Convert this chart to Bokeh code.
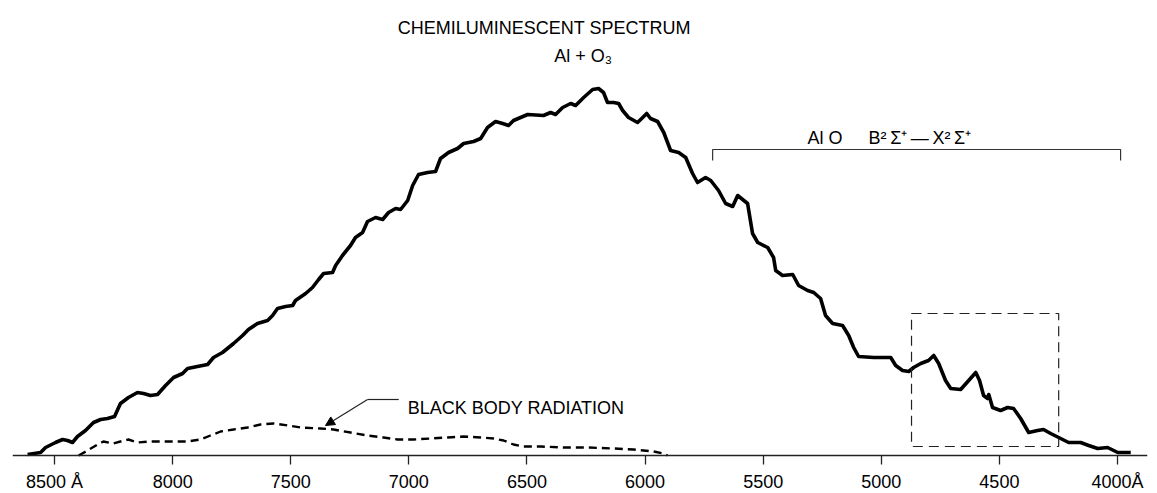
from bokeh.plotting import figure
from bokeh.models import Range1d, FixedTicker, Label, Arrow, NormalHead
from bokeh.embed import file_html
from bokeh.resources import INLINE

# ---- data (wavelength in Angstrom, relative intensity in arbitrary units) ----
wavelength = [8614, 8559, 8538, 8496, 8466, 8445, 8424, 8403, 8369, 8335, 8305, 8276,
              8246, 8221, 8187, 8149, 8123, 8094, 8064, 8030, 7996, 7958, 7937, 7895,
              7852, 7827, 7789, 7742, 7704, 7679, 7641, 7598, 7577, 7556, 7522, 7492,
              7480, 7437, 7408, 7382, 7361, 7323, 7310, 7281, 7247, 7226, 7196, 7175,
              7141, 7111, 7086, 7056, 7035, 7005, 6984, 6959, 6921, 6887, 6866, 6832,
              6794, 6768, 6726, 6696, 6667, 6633, 6603, 6578, 6557, 6497, 6430, 6400,
              6379, 6349, 6315, 6294, 6260, 6222, 6197, 6176, 6159, 6133, 6112, 6095,
              6070, 6032, 6010, 5993, 5977, 5947, 5921, 5892, 5858, 5828, 5799, 5778,
              5744, 5722, 5689, 5659, 5629, 5608, 5566, 5545, 5523, 5481, 5456, 5447,
              5418, 5375, 5350, 5312, 5286, 5257, 5236, 5206, 5164, 5138, 5117, 5096,
              5032, 4960, 4939, 4910, 4884, 4863, 4833, 4800, 4778, 4757, 4728, 4706,
              4664, 4630, 4600, 4584, 4567, 4550, 4545, 4529, 4495, 4465, 4440, 4410,
              4376, 4338, 4313, 4283, 4249, 4207, 4156, 4122, 4084, 4042, 3999, 3944]
intensity = [1, 3, 8, 13, 16, 15, 13, 19, 25, 33, 36, 37,
             39, 52, 58, 63, 62, 60, 61, 70, 78, 82, 87, 89,
             91, 98, 103, 112, 120, 126, 132, 135, 140, 147, 149, 150,
             155, 162, 168, 176, 182, 183, 190, 200, 210, 218, 223, 234,
             238, 236, 243, 247, 246, 255, 270, 281, 283, 284, 297, 303,
             307, 312, 314, 317, 328, 334, 332, 330, 335, 341, 340, 343,
             341, 348, 352, 350, 358, 366, 367, 363, 353, 353, 352, 345,
             338, 333, 338, 342, 337, 334, 323, 305, 303, 298, 282, 273,
             278, 275, 265, 252, 249, 260, 252, 222, 213, 208, 198, 185,
             180, 181, 170, 165, 163, 157, 140, 132, 130, 120, 108, 99,
             98, 98, 90, 85, 84, 88, 92, 95, 100, 92, 75, 67,
             66, 75, 83, 75, 60, 57, 61, 48, 45, 48, 47, 37,
             23, 25, 26, 22, 18, 13, 13, 10, 7, 8, 3, 3]

bb_wavelength = [8398, 8360, 8318, 8293, 8250, 8221, 8187, 8149, 8094, 8022, 7937, 7882,
                 7840, 7797, 7742, 7683, 7628, 7573, 7513, 7458, 7374, 7319, 7247, 7175,
                 7107, 7048, 6980, 6908, 6836, 6768, 6696, 6641, 6599, 6557, 6514, 6442,
                 6345, 6243, 6133, 6049, 5964, 5921, 5905]
bb_intensity = [0, 5, 11, 14, 12, 14, 16, 13, 14, 14, 14, 16,
                20, 24, 26, 28, 31, 32, 30, 28, 27, 26, 23, 20,
                18, 16, 16, 17, 18, 19, 18, 17, 15, 11, 9, 9,
                8, 8, 7, 6, 4, 2, 0]

tick_values = [8500, 8000, 7500, 7000, 6500, 6000, 5500, 5000, 4500, 4000]
tick_labels = {8500: "8500 Å", 4000: "4000Å"}

band_wavelengths = [5714, 3987]      # AlO B-X band system bracket
band_level = [295, 306]              # bracket foot / top
box_wavelengths = [4872, 4249]       # dashed box
box_levels = [9, 142]

FONT = "Liberation Sans"

p = figure(width=1157, height=493,
           x_range=Range1d(8678, 3873), y_range=Range1d(-38, 455),
           output_backend="svg", toolbar_location=None,
           y_axis_location=None,
           min_border_left=12, min_border_right=10, min_border_top=0, min_border_bottom=0)
p.outline_line_color = None
p.grid.visible = False
p.background_fill_color = "white"
p.border_fill_color = "white"

ax = p.xaxis[0]
ax.fixed_location = 0
ax.ticker = FixedTicker(ticks=tick_values)
ax.major_label_overrides = tick_labels
ax.minor_tick_line_color = None
ax.major_tick_in = 0
ax.major_tick_out = 9
ax.major_tick_line_width = 1.3
ax.major_tick_line_color = "#222222"
ax.axis_line_width = 1.3
ax.axis_line_color = "#222222"
ax.major_label_standoff = 7
ax.axis_label = None
ax.major_label_text_font = FONT
ax.major_label_text_font_size = "18px"
ax.major_label_text_color = "black"

# spectrum
p.line(wavelength, intensity, line_width=3.6, line_color="black", line_join="round")
# black body
p.line(bb_wavelength, bb_intensity, line_width=2.4, line_color="black", line_dash="8 5")

# dashed box
p.quad(left=[box_wavelengths[0]], right=[box_wavelengths[1]],
       bottom=[box_levels[0]], top=[box_levels[1]],
       fill_alpha=0, line_color="#222222", line_width=1.2, line_dash="10 6")

# bracket
p.line([band_wavelengths[0], band_wavelengths[0], band_wavelengths[1], band_wavelengths[1]],
       [band_level[0], band_level[1], band_level[1], band_level[0]],
       line_color="#333333", line_width=1.2)

# leader line for black body label
p.line([7043, 7175], [56, 56], line_color="#222222", line_width=1.2)
p.add_layout(Arrow(end=NormalHead(size=9, fill_color="black", line_color="black"),
                   x_start=7175, y_start=56, x_end=7353, y_end=30,
                   line_color="#222222", line_width=1.2))

def add_label(x, y, text, align="left", size="18px"):
    p.add_layout(Label(x=x, y=y, text=text, text_font=FONT, text_font_size=size,
                       text_align=align, text_baseline="alphabetic", text_color="black"))

add_label(6427, 428, "CHEMILUMINESCENT SPECTRUM", align="center")
add_label(6262, 400, "Al + O₃", align="center")
add_label(5312, 318, "Al O")
add_label(5054, 318, "B²\u2009Σ⁺\u2009—\u2009X²\u2009Σ⁺")
add_label(7005, 48, "BLACK BODY RADIATION")

open("out.html", "w").write(file_html(p, INLINE))
